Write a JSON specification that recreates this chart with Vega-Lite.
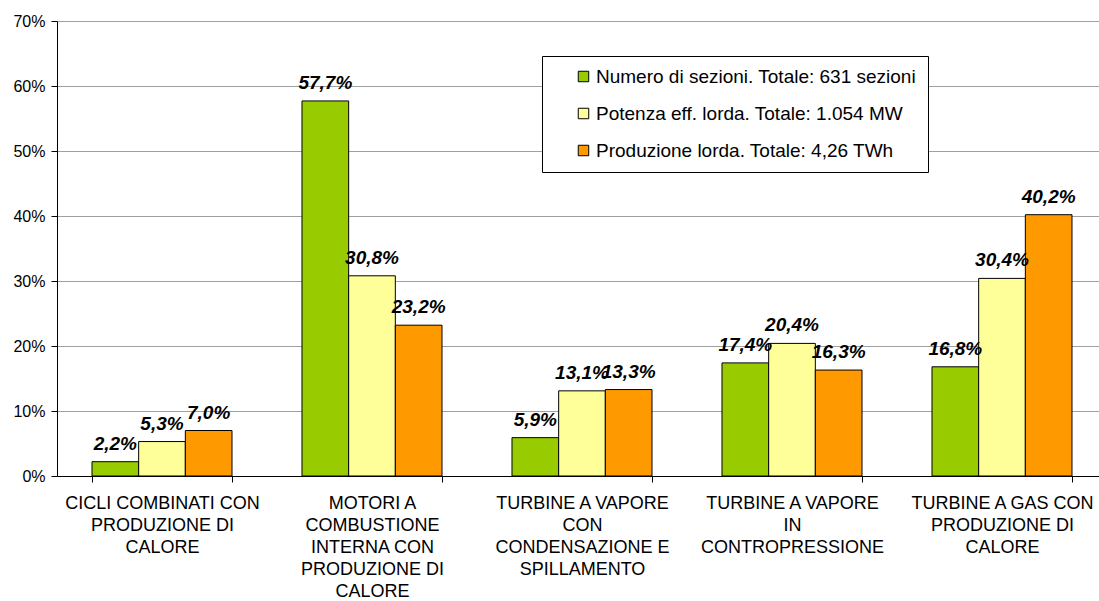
{
  "$schema": "https://vega.github.io/schema/vega-lite/v6.json",
  "width": 1042,
  "height": 455,
  "autosize": {"type": "none"},
  "padding": {"left": 57, "top": 21, "right": 0, "bottom": 125},
  "background": "white",
  "config": {
    "locale": {"number": {"decimal": ",", "thousands": ".", "grouping": [3], "currency": ["", " €"]}},
    "view": {"stroke": null},
    "font": "Liberation Sans"
  },
  "data": {
    "values": [
      {"cat": "CICLI COMBINATI CON PRODUZIONE DI CALORE", "serie": "Numero di sezioni. Totale: 631 sezioni", "v": 0.022},
      {"cat": "CICLI COMBINATI CON PRODUZIONE DI CALORE", "serie": "Potenza eff. lorda. Totale: 1.054 MW", "v": 0.053},
      {"cat": "CICLI COMBINATI CON PRODUZIONE DI CALORE", "serie": "Produzione lorda. Totale: 4,26 TWh", "v": 0.070},
      {"cat": "MOTORI A COMBUSTIONE INTERNA CON PRODUZIONE DI CALORE", "serie": "Numero di sezioni. Totale: 631 sezioni", "v": 0.577},
      {"cat": "MOTORI A COMBUSTIONE INTERNA CON PRODUZIONE DI CALORE", "serie": "Potenza eff. lorda. Totale: 1.054 MW", "v": 0.308},
      {"cat": "MOTORI A COMBUSTIONE INTERNA CON PRODUZIONE DI CALORE", "serie": "Produzione lorda. Totale: 4,26 TWh", "v": 0.232},
      {"cat": "TURBINE A VAPORE CON CONDENSAZIONE E SPILLAMENTO", "serie": "Numero di sezioni. Totale: 631 sezioni", "v": 0.059},
      {"cat": "TURBINE A VAPORE CON CONDENSAZIONE E SPILLAMENTO", "serie": "Potenza eff. lorda. Totale: 1.054 MW", "v": 0.131},
      {"cat": "TURBINE A VAPORE CON CONDENSAZIONE E SPILLAMENTO", "serie": "Produzione lorda. Totale: 4,26 TWh", "v": 0.133},
      {"cat": "TURBINE A VAPORE IN CONTROPRESSIONE", "serie": "Numero di sezioni. Totale: 631 sezioni", "v": 0.174},
      {"cat": "TURBINE A VAPORE IN CONTROPRESSIONE", "serie": "Potenza eff. lorda. Totale: 1.054 MW", "v": 0.204},
      {"cat": "TURBINE A VAPORE IN CONTROPRESSIONE", "serie": "Produzione lorda. Totale: 4,26 TWh", "v": 0.163},
      {"cat": "TURBINE A GAS CON PRODUZIONE DI CALORE", "serie": "Numero di sezioni. Totale: 631 sezioni", "v": 0.168},
      {"cat": "TURBINE A GAS CON PRODUZIONE DI CALORE", "serie": "Potenza eff. lorda. Totale: 1.054 MW", "v": 0.304},
      {"cat": "TURBINE A GAS CON PRODUZIONE DI CALORE", "serie": "Produzione lorda. Totale: 4,26 TWh", "v": 0.402}
    ]
  },
  "encoding": {
    "x": {
      "field": "cat", "type": "nominal", "sort": null,
      "scale": {"range": [0, 1050], "paddingInner": 0.3333, "paddingOuter": 0.16667},
      "axis": {
        "title": null, "labelAngle": 0, "domainColor": "black", "tickColor": "black", "tickSize": 6,
        "tickBand": "extent", "labelFontSize": 18, "labelColor": "black", "labelLineHeight": 22,
        "labelPadding": 12, "labelLimit": 300, "labelFont": "Liberation Sans", "labelBaseline": "top",
        "labelExpr": "datum.value == 'CICLI COMBINATI CON PRODUZIONE DI CALORE' ? ['CICLI COMBINATI CON','PRODUZIONE DI','CALORE'] : datum.value == 'MOTORI A COMBUSTIONE INTERNA CON PRODUZIONE DI CALORE' ? ['MOTORI A','COMBUSTIONE','INTERNA CON','PRODUZIONE DI','CALORE'] : datum.value == 'TURBINE A VAPORE CON CONDENSAZIONE E SPILLAMENTO' ? ['TURBINE A VAPORE','CON','CONDENSAZIONE E','SPILLAMENTO'] : datum.value == 'TURBINE A VAPORE IN CONTROPRESSIONE' ? ['TURBINE A VAPORE','IN','CONTROPRESSIONE'] : datum.value == 'TURBINE A GAS CON PRODUZIONE DI CALORE' ? ['TURBINE A GAS CON','PRODUZIONE DI','CALORE'] : ''"
      }
    },
    "xOffset": {"field": "serie", "type": "nominal", "sort": null},
    "y": {
      "field": "v", "type": "quantitative",
      "scale": {"domain": [0, 0.7], "nice": false},
      "axis": {
        "title": null, "format": ".0%", "values": [0, 0.1, 0.2, 0.3, 0.4, 0.5, 0.6, 0.7],
        "domainColor": "black", "tickColor": "black", "tickSize": 6, "labelFontSize": 16,
        "labelColor": "black", "labelPadding": 6, "gridColor": "#a0a0a0", "gridWidth": 1,
        "labelFont": "Liberation Sans"
      }
    }
  },
  "layer": [
    {
      "mark": {"type": "bar", "stroke": "black", "strokeWidth": 1},
      "encoding": {
        "color": {
          "field": "serie", "type": "nominal", "sort": null,
          "scale": {"range": ["#99CC00", "#FFFF99", "#FF9900"]},
          "legend": {
            "title": null, "orient": "none", "legendX": 485, "legendY": 35,
            "strokeColor": "black", "fillColor": "white", "padding": 11,
            "symbolType": "square", "symbolSize": 110, "symbolStrokeColor": "black",
            "symbolStrokeWidth": 1, "symbolOffset": 21, "labelFontSize": 19, "labelColor": "black",
            "labelFont": "Liberation Sans", "labelOffset": 3, "rowPadding": 17, "labelLimit": 400
          }
        }
      }
    },
    {
      "mark": {"type": "text", "baseline": "bottom", "dy": -8, "fontSize": 19, "fontWeight": "bold", "fontStyle": "italic", "color": "black", "font": "Liberation Sans"},
      "encoding": {
        "text": {"field": "v", "type": "quantitative", "format": ".1%"}
      }
    }
  ]
}
